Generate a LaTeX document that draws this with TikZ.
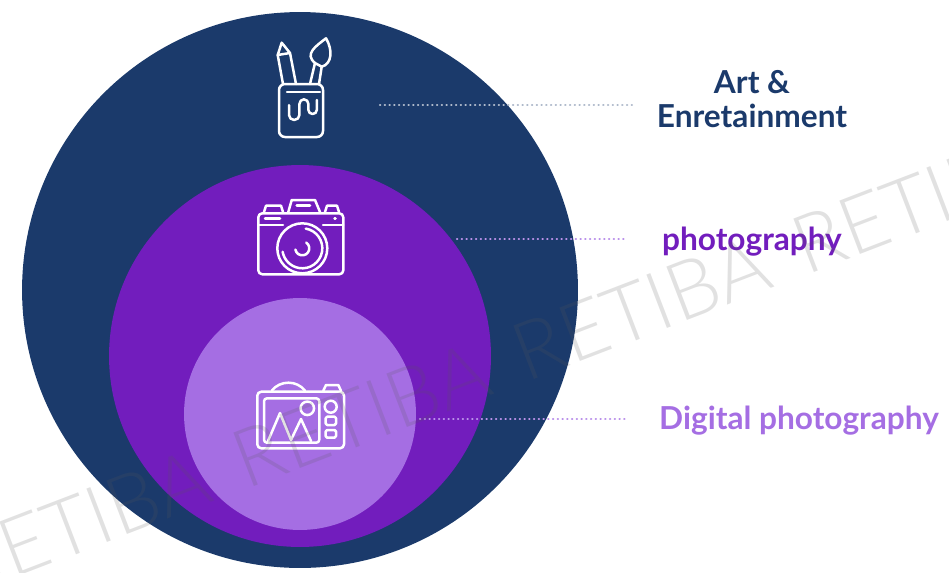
\documentclass[tikz,border=0pt]{standalone}
\usepackage{fontspec}
\setmainfont{Lato}
\newfontfamily\wmfont{Lato Light}
\definecolor{navy}{HTML}{1B3A6B}
\definecolor{violet}{HTML}{721DBD}
\definecolor{lilac}{HTML}{A56EE3}
\begin{document}
\begin{tikzpicture}[x=0.02cm,y=-0.02cm,line join=round,line cap=round]
	\tikzset{icon/.style={draw=white,line width=0.05cm},
		label/.style={font=\fontsize{18}{19.4}\selectfont\bfseries,align=center},
		leader/.style={line width=0.045cm,dash pattern=on 0.005cm off 0.09cm},
		wmark/.style={font=\wmfont\fontsize{46}{46}\selectfont,rotate=21,text=black!65,text opacity=0.18}}
	\useasboundingbox (0,0) rectangle (949,572);
	\fill[navy] (300,290) circle (5.56cm);
	\fill[violet] (300,356) circle (3.82cm);
	\fill[lilac] (300,414) circle (2.32cm);
	% labels
	\node[label,text=navy] (art) at (752,99) {Art \&\\Enretainment};
	\node[label,text=violet] (photo) at (752,242) {photography};
	\node[label,text=lilac] (digital) at (799,421) {Digital photography};
	% leaders
	\coordinate (artstart) at (380,105);
	\coordinate (artend) at (635,105);
	\coordinate (photostart) at (457,239);
	\coordinate (photoend) at (627,239);
	\coordinate (digitalstart) at (420,419);
	\coordinate (digitalend) at (627,419);
	\draw[leader,draw=navy!35!white] (artstart)--(artend);
	\draw[leader,draw=lilac!75!white] (photostart)--(photoend);
	\draw[leader,draw=lilac!75!white] (digitalstart)--(digitalend);
	% brushes
	\draw[icon,rounded corners=0.12cm] (279,84)--(279,137)--(323,137)--(323,84)--cycle;
	\draw[icon] (287,92)--(320,92);
	\draw[icon] (289,105)--(289,115) arc (180:360:5.2 and -5) --(299.4,104) arc (180:0:4.5 and -4.7) --(308.4,110) arc (180:360:4.2 and -4) --(316.8,100);
	\draw[icon] (283,84)--(277.7,55)--(281.7,42.7)--(290,53)--(296,84);
	\draw[icon] (277.7,55)--(290,53);
	\draw[icon] (310,84)--(315,63)--(321.7,66.7)--(319,84);
	\draw[icon] (315,63) .. controls (304,54) and (316,46) .. (326,38.3) .. controls (333,50) and (332,64) .. (321.7,66.7);
	% camera
	\draw[icon,rounded corners=0.08cm] (258.3,213.3) rectangle (343.3,274.3);
	\draw[icon] (258.3,225)--(283,225) (323,225)--(343.3,225);
	\draw[icon] (264,212)--(266,205.7)--(281,205.7)--(283,212);
	\draw[icon] (288.3,212)--(291.7,200)--(315,200)--(320,212);
	\draw[icon] (325,212)--(327,205.7)--(337,205.7)--(339,212);
	\draw[icon] (296.7,205.7)--(310,205.7) (265,218.3)--(280,218.3) (334.5,218.3)--(335.5,218.3);
	\draw[icon] (302.3,248.3) circle (0.5cm);
	\draw[icon] (305.8,228.6) arc (80:-170:20 and -20);
	\draw[icon] (306.3,242.6) arc (55:-170:7 and -7);
	% digital camera
	\draw[icon,rounded corners=0.08cm] (257.3,391.7) rectangle (344,448.3);
	\draw[icon,rounded corners=0.06cm] (264,398.3) rectangle (319.3,442.7);
	\draw[icon] (271.7,390.7) .. controls (280,380) and (297,380) .. (305,390.7);
	\draw[icon] (323.3,390.7)--(326,385)--(338.3,385)--(341,390.7);
	\draw[icon] (307.3,408.3) circle (0.135cm);
	\draw[icon] (330.7,406.7) circle (0.12cm);
	\draw[icon,rounded corners=0.03cm] (325.7,416.7) rectangle (336,425);
	\draw[icon,rounded corners=0.03cm] (325.7,430) rectangle (336,437.7);
	\draw[icon] (268,441)--(280,413)--(291,440)--(301,419)--(311,441);
	% watermark
	\begin{scope}
		\clip (0,0) rectangle (949,572);
		\foreach \wx/\wy/\wn in {81/522/a,361/415/b,641/308/c,921/201/d}
			\node[wmark] (wm\wn) at (\wx,\wy) {RETIBA};
	\end{scope}
\end{tikzpicture}
\end{document}
